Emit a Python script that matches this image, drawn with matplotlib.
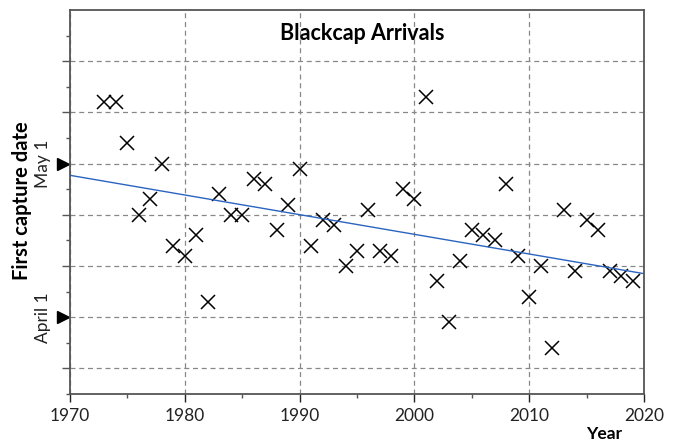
import numpy as np
import matplotlib
matplotlib.use("Agg")
import matplotlib.pyplot as plt
import matplotlib.transforms as mtransforms

plt.rcParams['font.family'] = ['Lato', 'DejaVu Sans']

# first capture date as day of year (April 1 = 91, May 1 = 121)
years = list(range(1973, 2020))
days = [133, 133, 125, 111, 114, 121, 105, 103, 107, 94,
        115, 111, 111, 118, 117, 108, 113, 120, 105, 110,
        109, 101, 104, 112, 104, 103, 116, 114, 134, 98,
        90, 102, 108, 107, 106, 117, 103, 95, 101, 85,
        112, 100, 110, 108, 100, 99, 98]

date_ticks = [91, 121]
date_labels = ["April 1", "May 1"]

fig = plt.figure(figsize=(6.79, 4.41), dpi=100)
ax = fig.add_axes([70/679, 47/441, 574/679, 384/441])

ax.plot(years, days, 'x', color='black', markersize=9.5, markeredgewidth=1.1)

# least squares trend
k, b = np.polyfit(years, days, 1)
xs = np.array([1970, 2020])
ax.plot(xs, k*xs + b, color='#2a64c0', lw=1)

ax.set_xlim(1970, 2020)
ax.set_ylim(76, 151)
ax.set_xticks(range(1970, 2021, 10))
ax.set_xticks(range(1975, 2020, 10), minor=True)
ax.set_yticks(range(81, 150, 10))
ax.set_yticks(range(76, 150, 10), minor=True)
ax.set_yticklabels([])
ax.tick_params(axis='x', labelsize=12.5, colors='#222222', length=6, width=1, pad=4)
ax.tick_params(axis='y', length=6, width=1, colors='#555555')
ax.tick_params(which='minor', length=3, width=1, colors='#555555')
ax.tick_params(axis='x', which='minor', colors='#555555')

ax.grid(True, which='major', color='#888888', ls=(0, (4, 3)), lw=0.9)
for s in ax.spines.values():
    s.set_color('#555555')
    s.set_linewidth(1.3)

trans = mtransforms.blended_transform_factory(ax.transAxes, ax.transData)
for d, lab in zip(date_ticks, date_labels):
    ax.plot([-0.0115], [d], marker='>', color='black', markersize=9,
            transform=trans, clip_on=False)
    ax.text(-0.047, d, lab, rotation=90, ha='center', va='center',
            fontsize=12.5, color='#222222', transform=trans)

ax.text(0.51, 0.94, "Blackcap Arrivals", ha='center', va='center',
        fontsize=15.5, fontweight='bold', transform=ax.transAxes)
fig.text(22/679, 1 - 201/441, "First capture date", rotation=90, ha='center', va='center',
         fontsize=14.5, fontweight='bold')
fig.text(622/679, 1 - 434/441, "Year", ha='right', va='center',
         fontsize=12.5, fontweight='bold')

fig.savefig("out.png", dpi=100)
